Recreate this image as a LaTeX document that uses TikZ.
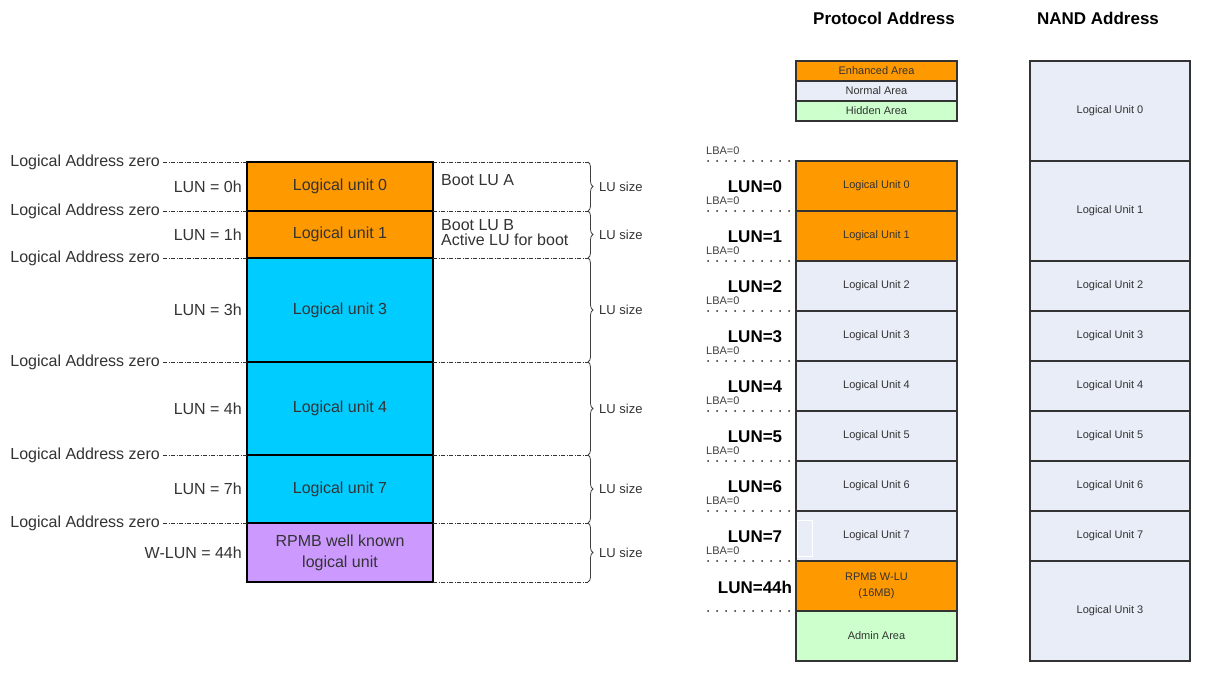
\documentclass[tikz,border=0pt]{standalone}
\usepackage{fontspec}
\setmainfont{Liberation Sans}
\usetikzlibrary{decorations.pathreplacing}
\definecolor{luorange}{HTML}{FF9900}
\definecolor{lucyan}{HTML}{00CCFF}
\definecolor{lupurple}{HTML}{CC99FF}
\definecolor{lunormal}{HTML}{E8EDF7}
\definecolor{luhidden}{HTML}{CCFFCC}
\definecolor{luline}{HTML}{333333}

\begin{document}
\begin{tikzpicture}[x=1pt,y=-1pt,
  bigtxt/.style={font=\fontsize{16}{15}\selectfont, text=black!80, inner sep=0},
  sizetxt/.style={font=\fontsize{13}{14}\selectfont, text=black!80, inner sep=0},
  smalltxt/.style={font=\fontsize{11}{12}\selectfont, text=black!80, inner sep=0},
  lbatxt/.style={font=\fontsize{11}{11}\selectfont, text=black!75, inner sep=0},
  luntxt/.style={font=\bfseries\fontsize{17}{18}\selectfont, inner sep=0},
  addrline/.style={gray!40!black, line width=0.8pt, dash pattern=on 4pt off 1.5pt on 1pt off 1.5pt},
  dotline/.style={black!85, line width=2pt, line cap=round, dash pattern=on 0pt off 9pt},
  lubrace/.style={decorate, decoration={brace, amplitude=5pt}, gray!50!black, line width=0.8pt},
  colbox/.style={draw=luline, line width=1.4pt}]
  \useasboundingbox (0,0) rectangle (1207,676);
  % left: logical units seen from the host
  \foreach \ya/\yb/\col/\txt/\lun [count=\k] in {162/211/luorange/Logical unit 0/LUN = 0h,
      211/258/luorange/Logical unit 1/LUN = 1h, 258/362/lucyan/Logical unit 3/LUN = 3h,
      362/455/lucyan/Logical unit 4/LUN = 4h, 455/523/lucyan/Logical unit 7/LUN = 7h,
      523/582/lupurple/{RPMB well known\\[6pt]logical unit}/W-LUN = 44h} {
    \draw[fill=\col, line width=1.6pt] (247,\ya) rectangle (433,\yb);
    \node[bigtxt, align=center] (lu\k) at (340,{(\ya+\yb)/2}) {\txt};
    \node[bigtxt, anchor=east] (lun\k) at (242,{(\ya+\yb)/2}) {\lun};
    \node[bigtxt, anchor=east] (laz\k) at (160,\ya) {Logical Address zero};
    \draw[addrline] ([xshift=3pt]laz\k.east) -- (247,\ya);
    \draw[addrline] (433,\ya) -- (588,\ya);
    \draw[lubrace] (588,\ya) -- (588,\yb);
    \node[sizetxt, anchor=west] (size\k) at (599,{(\ya+\yb)/2}) {LU size};
  }
  \draw[addrline] (433,582) -- (588,582);
  \node[bigtxt, anchor=west] (bootA) at (441,180) {Boot LU A};
  \node[bigtxt, anchor=west, align=left] (bootB) at (441,233) {Boot LU B\\Active LU for boot};
  % right: protocol and NAND address
  \node[luntxt] (protitle) at (884,18) {Protocol Address};
  \node[luntxt] (nandtitle) at (1098,18) {NAND Address};
  \foreach \col/\txt [count=\k from 0] in {luorange/Enhanced Area, lunormal/Normal Area, luhidden/Hidden Area} {
    \draw[colbox, fill=\col] (796,{61+20*\k}) rectangle ++(161,20);
    \node[smalltxt] (leg\k) at (876.5,{71+20*\k}) {\txt};
  }
  \foreach \col/\txt [count=\k from 0] in {luorange/Logical Unit 0, luorange/Logical Unit 1,
      lunormal/Logical Unit 2, lunormal/Logical Unit 3, lunormal/Logical Unit 4, lunormal/Logical Unit 5,
      lunormal/Logical Unit 6, lunormal/Logical Unit 7, luorange/{RPMB W-LU\\[4pt](16MB)}, luhidden/Admin Area} {
    \draw[colbox, fill=\col] (796,{161+50*\k}) rectangle ++(161,50);
    \node[smalltxt, align=center] (pa\k) at (876.5,{186+50*\k}) {\txt};
  }
  \draw[white, line width=1pt] (797,520) rectangle (812,556);
  \foreach \i in {0,...,8} {
    \node[lbatxt, anchor=south west] (lba\i) at (706,{155+50*\i}) {LBA=0};
    \draw[dotline] (708,{161+50*\i}) -- (796,{161+50*\i});
  }
  \foreach \i in {0,...,7}
    \node[luntxt] (plun\i) at (755,{187+50*\i}) {LUN=\i};
  \node[luntxt] (plun44) at (755,587) {LUN=44h};
  \draw[dotline] (708,611) -- (796,611);
  \foreach \ya/\yb/\txt [count=\k] in {61/161/Logical Unit 0, 161/261/Logical Unit 1,
      261/311/Logical Unit 2, 311/361/Logical Unit 3, 361/411/Logical Unit 4, 411/461/Logical Unit 5,
      461/511/Logical Unit 6, 511/561/Logical Unit 7, 561/661/Logical Unit 3} {
    \draw[colbox, fill=lunormal] (1030,\ya) rectangle (1190,\yb);
    \node[smalltxt] (na\k) at (1110,{(\ya+\yb)/2}) {\txt};
  }
\end{tikzpicture}
\end{document}
